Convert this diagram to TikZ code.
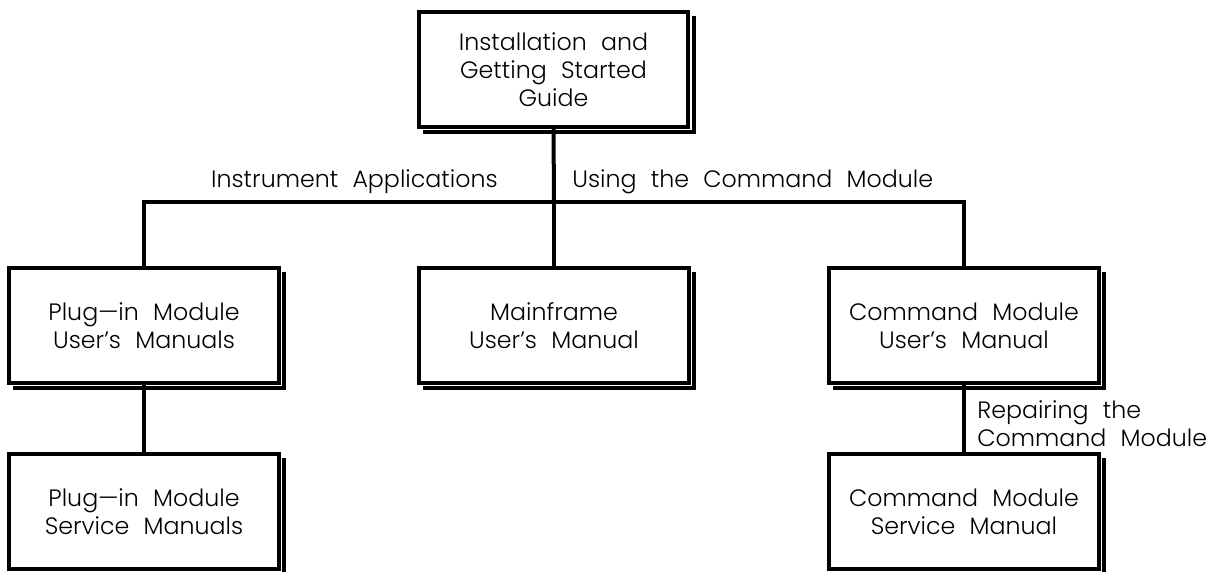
\documentclass[tikz,border=0pt]{standalone}
\usepackage{fontspec}
\setmainfont{Poppins}[UprightFont=* Light, WordSpace=2.2]
\usetikzlibrary{calc,positioning}
\tikzset{
  manual/.style={draw, line width=0.08cm, fill=white, align=center,
    minimum width=5.4cm, minimum height=2.3cm, inner sep=0pt,
    font=\fontsize{13.5}{15.9}\selectfont},
  drop/.style={line width=0.08cm},
  link/.style={line width=0.08cm},
  tag/.style={font=\fontsize{13.5}{15.9}\selectfont, inner sep=0pt}
}
\begin{document}
\begin{tikzpicture}[x=0.02cm,y=-0.02cm]
  \useasboundingbox (0,0) rectangle (1212,571);
  \node[manual] (guide) at (553.5,69.5) {Installation and\\Getting Started\\Guide};
  \node[manual] (plugman) at (144,325.5) {Plug---in Module\\User's Manuals};
  \node[manual] (frame) at (554,325.5) {Mainframe\\User's Manual};
  \node[manual] (cmdman) at (964,325.5) {Command Module\\User's Manual};
  \node[manual] (plugsvc) at (144,511.5) {Plug---in Module\\Service Manuals};
  \node[manual] (cmdsvc) at (964,511.5) {Command Module\\Service Manual};
  \foreach \b in {guide,plugman,frame,cmdman,plugsvc,cmdsvc}
    \draw[drop] ([shift={(3.5,6)}]\b.north east) |- ([shift={(6,3.5)}]\b.south west);
  \coordinate (hub) at (554,202);
  \draw[link] (guide.south) -- (hub);
  \draw[link] (plugman.north) |- (hub) -| (cmdman.north);
  \draw[link] (hub) -- (frame.north);
  \draw[link] (plugman) -- (plugsvc);
  \draw[link] (cmdman) -- (cmdsvc);
  \node[tag, anchor=base east] (apps) at (498,187) {Instrument Applications};
  \node[tag, anchor=base west] (usecm) at (572,187) {Using the Command Module};
  \node[tag, anchor=north west, align=left] (repair) at (977,400) {Repairing the\\Command Module};
\end{tikzpicture}
\end{document}
